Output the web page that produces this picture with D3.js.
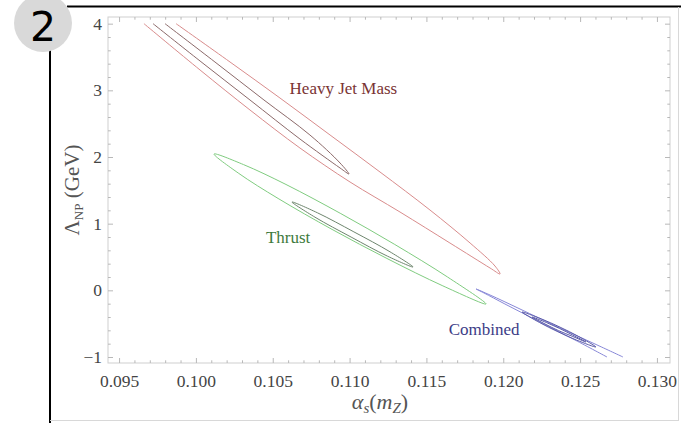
<!doctype html>
<html lang="en">
  <head>
    <meta charset="utf-8">
    <title>Lambda_NP vs alpha_s contours</title>
    <script src="https://d3js.org/d3.v7.min.js"></script>
    <style>
      body { margin: 0; background: #fff; }
      .tick text { font-family: "Liberation Serif", serif; fill: #444; }
    </style>
  </head>
  <body>
    <div id="chart"></div>
    <script>
    // tick values
    var xMajor = [0.095, 0.100, 0.105, 0.110, 0.115, 0.120, 0.125, 0.130];
    var yMajor = [-1, 0, 1, 2, 3, 4];

    // contour outlines, [alpha_s, Lambda_NP]
    var hjmOuter = [[0.09662, 4.0], [0.10027, 3.305], [0.10352, 2.705], [0.10677, 2.135], [0.11003, 1.625],
      [0.11328, 1.175], [0.11653, 0.71], [0.11914, 0.335], [0.11979, 0.245], [0.11946, 0.365],
      [0.11784, 0.71], [0.11523, 1.205], [0.11198, 1.775], [0.10873, 2.33], [0.10547, 2.885],
      [0.10222, 3.425], [0.09871, 4.0]];
    var hjmInner = [[0.09721, 4.0], [0.10027, 3.44], [0.10352, 2.855], [0.10677, 2.27], [0.10938, 1.835],
      [0.10996, 1.745], [0.10938, 1.91], [0.10742, 2.33], [0.10443, 2.855], [0.10124, 3.425], [0.09799, 4.0]];
    var thrustOuter = [[0.10118, 2.045], [0.10310, 1.886], [0.10586, 1.588], [0.10943, 1.151], [0.11294, 0.688],
      [0.11638, 0.199], [0.11888, -0.205], [0.11607, 0.067], [0.11243, 0.478], [0.10886, 0.914],
      [0.10535, 1.378], [0.10279, 1.754]];
    var thrustInner = [[0.10625, 1.325], [0.10791, 1.163], [0.11028, 0.877], [0.11263, 0.578], [0.11413, 0.35],
      [0.11247, 0.512], [0.11010, 0.799], [0.10775, 1.097]];
    var combOuter = [[0.12675, -1.0], [0.12467, -0.745], [0.12239, -0.475], [0.12011, -0.205], [0.11875, -0.04],
      [0.11823, 0.02], [0.11914, -0.07], [0.12109, -0.28], [0.12369, -0.565], [0.12597, -0.805], [0.12779, -1.0]];
    var combInnerA = [[0.12122, -0.325], [0.12248, -0.4285], [0.12370, -0.553], [0.12489, -0.691], [0.12603, -0.85],
      [0.12477, -0.7465], [0.12356, -0.622], [0.12237, -0.484]];
    var combInnerB = [[0.12187, -0.4], [0.12280, -0.482], [0.12366, -0.571], [0.12450, -0.668], [0.12538, -0.775],
      [0.12448, -0.688], [0.12359, -0.604], [0.12272, -0.505]];

    var contours = [
      { pts: hjmOuter, closed: false, color: '#d98c8c' },
      { pts: hjmInner, closed: false, color: '#8c6a6a' },
      { pts: thrustOuter, closed: true, color: '#80cc80' },
      { pts: thrustInner, closed: true, color: '#6e866e' },
      { pts: combOuter, closed: false, color: '#8888d8' },
      { pts: combInnerA, closed: true, color: '#5a5aa8' },
      { pts: combInnerB, closed: true, color: '#5a5aa8' }
    ];

    var labelNames = ['Heavy Jet Mass', 'Thrust', 'Combined'];
    var labelPos = [[0.1096, 2.945], [0.1060, 0.71], [0.11875, -0.67]];
    var labelColors = ['#7a3434', '#3d7a3d', '#3c3c86'];

    function draw() {
      var width = 681, height = 423;
      var svg = d3.select('#chart').append('svg')
          .attr('width', width)
          .attr('height', height);

      // card border and badge
      svg.append('line').attr('x1', 67).attr('x2', 681).attr('y1', 6.5).attr('y2', 6.5)
          .attr('stroke', '#000').attr('stroke-width', 2);
      svg.append('line').attr('x1', 50).attr('x2', 50).attr('y1', 40).attr('y2', 423)
          .attr('stroke', '#000').attr('stroke-width', 2);
      svg.append('line').attr('x1', 678.5).attr('x2', 678.5).attr('y1', 7).attr('y2', 421)
          .attr('stroke', '#d8d8d8');
      svg.append('line').attr('x1', 50).attr('x2', 679).attr('y1', 420.5).attr('y2', 420.5)
          .attr('stroke', '#d8d8d8');
      svg.append('circle').attr('cx', 43).attr('cy', 23).attr('r', 29).attr('fill', '#d9d9d9');
      svg.append('text').attr('x', 43).attr('y', 41).attr('text-anchor', 'middle')
          .style('font-family', '"DejaVu Sans", sans-serif').style('font-size', '41px')
          .text('2');

      // scales
      var pl = 108, pr = 670, pt = 17, pb = 363;
      var x = d3.scaleLinear().domain([0.09428, 0.13085]).range([pl, pr]);
      var y = d3.scaleLinear().domain([-1.09, 4.1]).range([pb, pt]);

      var xMinor = d3.range(0, 36).map(function(i) { return 0.095 + i * 0.001; })
          .filter(function(v) { return xMajor.every(function(m) { return Math.abs(m - v) > 1e-6; }); });
      var yMinor = d3.range(0, 26).map(function(i) { return -1 + i * 0.2; })
          .filter(function(v) { return yMajor.every(function(m) { return Math.abs(m - v) > 1e-6; }); });

      // frame
      svg.append('rect').attr('x', pl).attr('y', pt)
          .attr('width', pr - pl).attr('height', pb - pt)
          .attr('fill', 'none').attr('stroke', '#cfcfcf');

      function styleAxis(g) {
        g.select('.domain').remove();
        g.selectAll('.tick line').attr('stroke', '#b8b8b8');
      }

      // bottom / top
      svg.append('g').attr('transform', 'translate(0,' + pb + ')')
          .call(d3.axisBottom(x).tickValues(xMajor).tickSize(-5).tickPadding(12).tickFormat(d3.format('.3f')))
          .call(styleAxis)
          .selectAll('text').style('font-size', '17.5px');
      svg.append('g').attr('transform', 'translate(0,' + pb + ')')
          .call(d3.axisBottom(x).tickValues(xMinor).tickSize(-2.7).tickFormat(''))
          .call(styleAxis);
      svg.append('g').attr('transform', 'translate(0,' + pt + ')')
          .call(d3.axisTop(x).tickValues(xMajor).tickSize(-5).tickFormat(''))
          .call(styleAxis);
      svg.append('g').attr('transform', 'translate(0,' + pt + ')')
          .call(d3.axisTop(x).tickValues(xMinor).tickSize(-2.7).tickFormat(''))
          .call(styleAxis);

      // left / right
      svg.append('g').attr('transform', 'translate(' + pl + ',0)')
          .call(d3.axisLeft(y).tickValues(yMajor).tickSize(-5).tickPadding(6).tickFormat(d3.format('d')))
          .call(styleAxis)
          .selectAll('text').style('font-size', '17.5px');
      svg.append('g').attr('transform', 'translate(' + pl + ',0)')
          .call(d3.axisLeft(y).tickValues(yMinor).tickSize(-2.7).tickFormat(''))
          .call(styleAxis);
      svg.append('g').attr('transform', 'translate(' + pr + ',0)')
          .call(d3.axisRight(y).tickValues(yMajor).tickSize(-5).tickFormat(''))
          .call(styleAxis);
      svg.append('g').attr('transform', 'translate(' + pr + ',0)')
          .call(d3.axisRight(y).tickValues(yMinor).tickSize(-2.7).tickFormat(''))
          .call(styleAxis);

      // axis titles
      var xt = svg.append('text').attr('x', 380).attr('y', 409)
          .attr('text-anchor', 'middle').attr('fill', '#555')
          .style('font-family', '"Liberation Serif", serif').style('font-size', '22px');
      xt.append('tspan').style('font-style', 'italic').text('α');
      xt.append('tspan').attr('dy', 4).style('font-size', '15px').style('font-style', 'italic').text('s');
      xt.append('tspan').attr('dy', -4).text('(');
      xt.append('tspan').style('font-style', 'italic').text('m');
      xt.append('tspan').attr('dy', 4).style('font-size', '15px').style('font-style', 'italic').text('Z');
      xt.append('tspan').attr('dy', -4).text(')');

      var yt = svg.append('text').attr('transform', 'translate(79,' + ((pt + pb) / 2) + ') rotate(-90)')
          .attr('text-anchor', 'middle').attr('fill', '#555')
          .style('font-family', '"Liberation Serif", serif').style('font-size', '21px');
      yt.append('tspan').text('Λ');
      yt.append('tspan').attr('dy', 4).style('font-size', '13px').text('NP');
      yt.append('tspan').attr('dy', -4).text(' (GeV)');

      // contours
      svg.append('clipPath').attr('id', 'plotclip').append('rect')
          .attr('x', pl).attr('y', pt).attr('width', pr - pl).attr('height', pb - pt);
      var cg = svg.append('g').attr('clip-path', 'url(#plotclip)');
      contours.forEach(function(c) {
        var line = d3.line()
            .x(function(d) { return x(d[0]); })
            .y(function(d) { return y(d[1]); })
            .curve(c.closed ? d3.curveCatmullRomClosed : d3.curveCatmullRom);
        cg.append('path').attr('d', line(c.pts))
            .attr('fill', 'none').attr('stroke', c.color).attr('stroke-width', 1);
      });

      // labels
      svg.selectAll('.clabel').data(labelNames).enter().append('text')
          .attr('class', 'clabel')
          .attr('x', function(d, i) { return x(labelPos[i][0]); })
          .attr('y', function(d, i) { return y(labelPos[i][1]); })
          .attr('text-anchor', 'middle')
          .attr('fill', function(d, i) { return labelColors[i]; })
          .style('font-family', '"Liberation Serif", serif')
          .style('font-size', '17px')
          .text(function(d) { return d; });
    }
    draw();
    </script>
  </body>
</html>
